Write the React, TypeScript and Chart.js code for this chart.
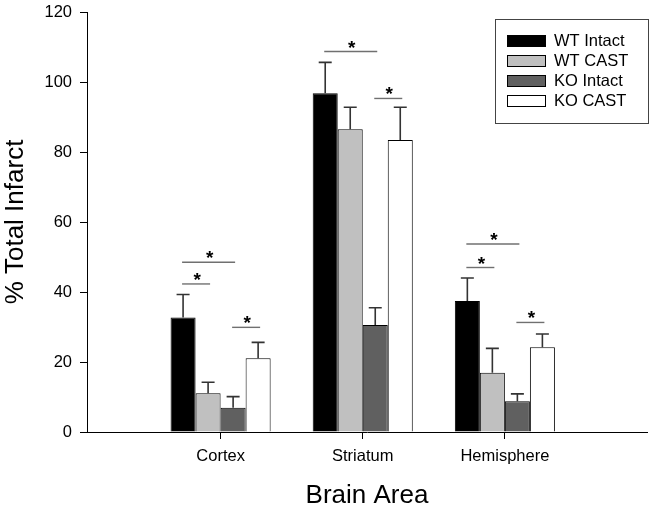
import React, { useEffect, useRef } from 'react';
import { Chart, registerables } from 'chart.js';
Chart.register(...registerables);

const FONT = 'Liberation Sans, Arial, sans-serif';

const categories = ['Cortex', 'Striatum', 'Hemisphere'];
const seriesNames = ['WT Intact', 'WT CAST', 'KO Intact', 'KO CAST'];
const seriesColors = ['#000000', '#c0c0c0', '#606060', '#ffffff'];

const wtIntact = [32.7, 96.8, 37.4];
const wtCast = [11.1, 86.5, 16.9];
const koIntact = [6.9, 30.6, 8.8];
const koCast = [21.1, 83.4, 24.2];

const wtIntactErr = [6.6, 8.8, 6.6];
const wtCastErr = [3.1, 6.3, 7.0];
const koIntactErr = [3.2, 4.9, 2.1];
const koCastErr = [4.5, 9.4, 3.8];

const yTicks = [0, 20, 40, 60, 80, 100, 120];

// significance brackets: [category index, series A, series B, y value]
const brackets: number[][] = [
  [0, 0, 1, 42.3],
  [0, 0, 2, 48.5],
  [0, 2, 3, 29.9],
  [1, 0, 2, 108.7],
  [1, 2, 3, 95.3],
  [2, 0, 1, 47.0],
  [2, 0, 2, 53.7],
  [2, 2, 3, 31.3],
];

const seriesValues = [wtIntact, wtCast, koIntact, koCast];
const seriesErrors = [wtIntactErr, wtCastErr, koIntactErr, koCastErr];

const annotatePlugin = {
  id: 'annotate',
  afterDatasetsDraw(chart: any) {
    const ctx = chart.ctx;
    const y = chart.scales.y;
    ctx.save();
    // error bars
    ctx.strokeStyle = '#333333';
    ctx.lineWidth = 1.6;
    seriesErrors.forEach((errs, di) => {
      const meta = chart.getDatasetMeta(di);
      meta.data.forEach((bar: any, i: number) => {
        const v = seriesValues[di][i];
        const base = y.getPixelForValue(v);
        const top = y.getPixelForValue(v + errs[i]);
        ctx.beginPath();
        ctx.moveTo(bar.x, base);
        ctx.lineTo(bar.x, top);
        ctx.moveTo(bar.x - 6.5, top);
        ctx.lineTo(bar.x + 6.5, top);
        ctx.stroke();
      });
    });
    // brackets
    ctx.strokeStyle = '#707070';
    ctx.lineWidth = 1.4;
    ctx.fillStyle = '#000';
    ctx.font = `bold 19px ${FONT}`;
    ctx.textAlign = 'center';
    ctx.textBaseline = 'alphabetic';
    brackets.forEach(([c, a, b, v]) => {
      const xa = chart.getDatasetMeta(a).data[c].x;
      const xb = chart.getDatasetMeta(b).data[c].x;
      const py = y.getPixelForValue(v);
      ctx.beginPath();
      ctx.moveTo(xa - 1, py);
      ctx.lineTo(xb + 2, py);
      ctx.stroke();
      ctx.fillText('*', (xa + xb) / 2 + 1.5, py + 2);
    });
    ctx.restore();
  },
  afterDraw(chart: any) {
    const { ctx, chartArea } = chart;
    const bx = chartArea.right - 152;
    const by = chartArea.top + 7;
    const bw = 153;
    const bh = 104;
    ctx.save();
    ctx.strokeStyle = '#444';
    ctx.lineWidth = 1;
    ctx.strokeRect(Math.round(bx) + 0.5, Math.round(by) + 0.5, bw, bh);
    ctx.font = `16.5px ${FONT}`;
    ctx.textAlign = 'left';
    ctx.textBaseline = 'middle';
    chart.data.datasets.forEach((ds: any, i: number) => {
      const cy = by + 21.5 + i * 20.1;
      ctx.fillStyle = ds.backgroundColor;
      ctx.fillRect(bx + 12, cy - 5.5, 38, 11);
      ctx.strokeStyle = '#000';
      ctx.strokeRect(Math.round(bx + 12) + 0.5, Math.round(cy - 5.5) + 0.5, 38, 11);
      ctx.fillStyle = '#000';
      ctx.fillText(ds.label, bx + 59, cy + 1);
    });
    ctx.restore();
  },
};

export default function App() {
  const ref = useRef<HTMLCanvasElement | null>(null);
  useEffect(() => {
    if (!ref.current) return;
    Chart.defaults.font.family = FONT;
    const chart = new Chart(ref.current, {
      type: 'bar',
      data: {
        datasets: seriesNames.map((name, di) => ({
          label: name,
          data: seriesValues[di].map((v, i) => ({ x: i, y: v })),
          backgroundColor: seriesColors[di],
          borderColor: '#000',
          borderWidth: 1,
          categoryPercentage: 0.704,
          barPercentage: 1,
        })),
      },
      options: {
        responsive: false,
        animation: false,
        layout: { padding: { top: 0, right: 7, left: 0, bottom: 0 } },
        plugins: { legend: { display: false }, tooltip: { enabled: false } },
        scales: {
          x: {
            type: 'linear',
            min: -0.94,
            max: 3.0,
            offset: false,
            grid: { offset: false, drawOnChartArea: false, color: '#000', tickLength: 7 },
            border: { color: '#000', width: 1 },
            afterBuildTicks: (s: any) => {
              s.ticks = categories.map((_, i) => ({ value: i }));
            },
            afterFit: (s: any) => {
              s.height = 77;
            },
            ticks: {
              autoSkip: false,
              maxRotation: 0,
              padding: 8,
              color: '#000',
              font: { size: 16.5, family: FONT },
              callback: (v: any) => categories[v as number] ?? '',
            },
            title: {
              display: true,
              text: 'Brain Area',
              color: '#000',
              font: { size: 26, family: FONT },
              padding: { top: 0, bottom: -2 },
            },
          },
          y: {
            min: 0,
            max: 120,
            afterBuildTicks: (s: any) => {
              s.ticks = yTicks.map((v) => ({ value: v }));
            },
            afterFit: (s: any) => {
              s.width = 87;
            },
            grid: { drawOnChartArea: false, color: '#000', tickLength: 7 },
            border: { color: '#000', width: 1 },
            ticks: {
              padding: 8,
              color: '#000',
              font: { size: 16.5, family: FONT, lineHeight: 0.485 },
            },
            title: {
              display: true,
              text: '% Total Infarct',
              color: '#000',
              font: { size: 26, family: FONT },
              padding: { top: 0, bottom: 0 },
            },
          },
        },
      },
      plugins: [annotatePlugin],
    } as any);
    return () => chart.destroy();
  }, []);
  return (
    <div style={{ position: 'absolute', left: 0, top: 0, width: 654, height: 509, background: '#fff' }}>
      <canvas ref={ref} width={654} height={509} />
    </div>
  );
}
